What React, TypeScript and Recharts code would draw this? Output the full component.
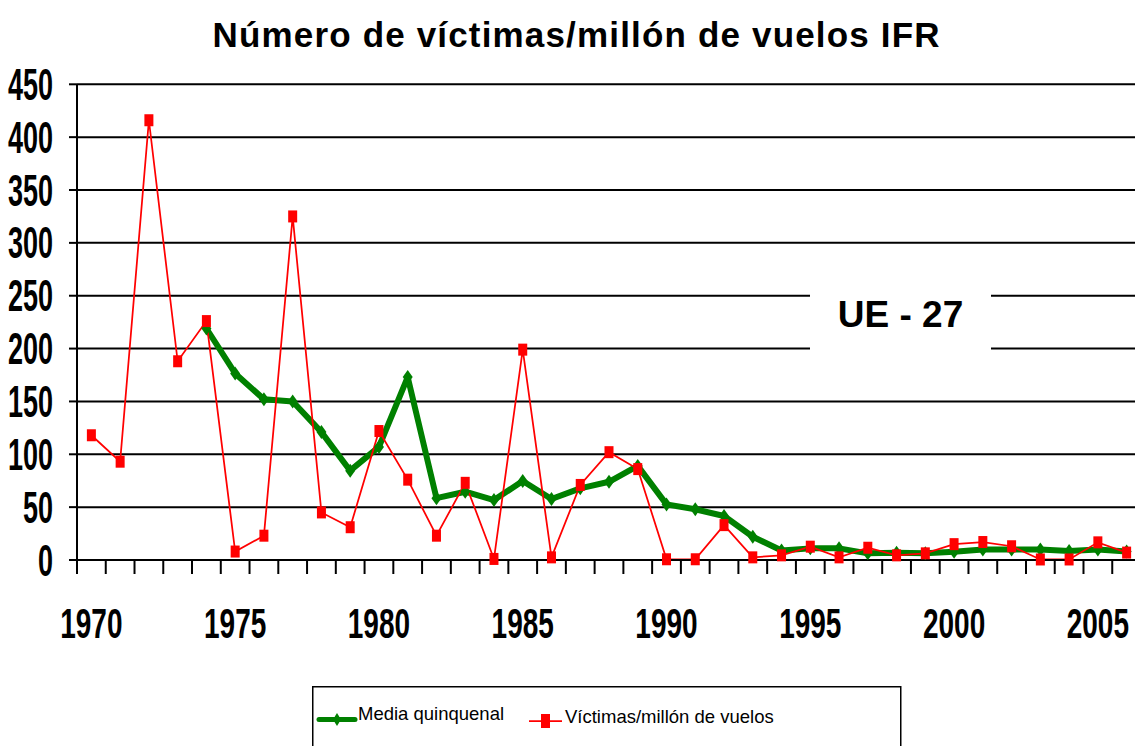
import React from 'react';
import { LineChart, Line, XAxis, YAxis, CartesianGrid } from 'recharts';

const years = [
  1970, 1971, 1972, 1973, 1974, 1975, 1976, 1977, 1978, 1979,
  1980, 1981, 1982, 1983, 1984, 1985, 1986, 1987, 1988, 1989,
  1990, 1991, 1992, 1993, 1994, 1995, 1996, 1997, 1998, 1999,
  2000, 2001, 2002, 2003, 2004, 2005, 2006,
];

const victimas = [
  118, 93, 416, 188, 226, 8, 23, 325, 45, 31,
  122, 76, 23, 73, 1, 199, 2.5, 71, 102, 86,
  0.7, 0.7, 33, 2.5, 4.4, 12.6, 2.5, 11.6, 4.4, 6.3,
  15, 17, 13, 0.5, 0.5, 16.7, 7,
];

const mediaQuinquenal = [
  null, null, null, null, 219, 176.5, 152, 150, 121, 84.5,
  107, 173, 58.5, 64.6, 56.7, 74.7, 57.7, 67.8, 74, 89,
  52.6, 48, 41.6, 22, 9, 11, 11, 6.3, 6.9, 6.3,
  7.9, 10, 10, 10, 8.6, 10, 8,
];

const yTicks = [0, 50, 100, 150, 200, 250, 300, 350, 400, 450];
const labeledYears = [1970, 1975, 1980, 1985, 1990, 1995, 2000, 2005];

const title = 'Número de víctimas/millón de vuelos IFR';
const annotation = 'UE - 27';
const legendMedia = 'Media quinquenal';
const legendVictimas = 'Víctimas/millón de vuelos';

const data = years.map((y, i) => ({
  year: y,
  victimas: victimas[i],
  media: mediaQuinquenal[i],
}));

const GREEN = '#008000';
const RED = '#FF0000';
const FONT = '"Liberation Sans", Arial, sans-serif';

const YTick = (props: any) => {
  const { x, y, payload } = props;
  return (
    <g transform={`translate(${x},${y + 15.5}) scale(1,1.62)`}>
      <text x={0} y={0} textAnchor="end" fontFamily={FONT} fontWeight="bold" fontSize={27} fill="#000">
        {payload.value}
      </text>
    </g>
  );
};

const XTick = (props: any) => {
  const { x, y, payload, index, visibleTicksCount } = props;
  const half = payload && typeof payload.offset === 'number' && payload.offset > 0 ? payload.offset : 14.38;
  const showLabel = labeledYears.includes(Number(payload.value));
  const isLast = index === (visibleTicksCount ?? years.length) - 1;
  return (
    <g>
      <line x1={x - half} x2={x - half} y1={y} y2={y + 14} stroke="#000" strokeWidth={2} />
      {isLast && <line x1={x + half} x2={x + half} y1={y} y2={y + 14} stroke="#000" strokeWidth={2} />}
      {showLabel && (
        <g transform={`translate(${x},${y + 78}) scale(1,1.5)`}>
          <text x={0} y={0} textAnchor="middle" fontFamily={FONT} fontWeight="bold" fontSize={28} fill="#000">
            {payload.value}
          </text>
        </g>
      )}
    </g>
  );
};

const RedDot = (props: any) => {
  const { cx, cy, index } = props;
  if (cx == null || cy == null) return <g key={`r${index}`} />;
  return <rect key={`r${index}`} x={cx - 4.5} y={cy - 6} width={9} height={12} fill={RED} />;
};

const GreenDot = (props: any) => {
  const { cx, cy, index } = props;
  if (cx == null || cy == null) return <g key={`g${index}`} />;
  return (
    <polygon
      key={`g${index}`}
      points={`${cx},${cy - 7} ${cx + 5},${cy} ${cx},${cy + 7} ${cx - 5},${cy}`}
      fill={GREEN}
    />
  );
};

export default function App() {
  return (
    <div
      style={{
        position: 'fixed',
        left: 0,
        top: 0,
        width: 1135,
        height: 746,
        overflow: 'hidden',
        background: '#fff',
      }}
    >
      <div style={{ position: 'absolute', left: 0, top: 0 }}>
        <LineChart
          width={1141}
          height={746}
          data={data}
          margin={{ top: 84.3, right: 0, bottom: 86, left: 0 }}
        >
          <CartesianGrid vertical={false} stroke="#000" strokeWidth={2} />
          <XAxis
            dataKey="year"
            type="category"
            scale="band"
            interval={0}
            height={100}
            tickLine={false}
            tickSize={0}
            tickMargin={0}
            axisLine={{ stroke: '#000', strokeWidth: 2 }}
            tick={<XTick />}
          />
          <YAxis
            type="number"
            domain={[0, 450]}
            ticks={yTicks}
            interval={0}
            width={77}
            tickSize={8}
            tickMargin={16}
            tickLine={{ stroke: '#000', strokeWidth: 2 }}
            axisLine={{ stroke: '#000', strokeWidth: 2 }}
            tick={<YTick />}
          />
          <Line
            dataKey="media"
            stroke={GREEN}
            strokeWidth={6}
            strokeLinejoin="round"
            dot={GreenDot}
            activeDot={false}
            isAnimationActive={false}
            connectNulls={false}
          />
          <Line
            dataKey="victimas"
            stroke={RED}
            strokeWidth={1.75}
            dot={RedDot}
            activeDot={false}
            isAnimationActive={false}
          />
        </LineChart>
      </div>
      <svg
        width={1135}
        height={746}
        style={{ position: 'absolute', left: 0, top: 0, pointerEvents: 'none' }}
      >
        <text
          x={212.5}
          y={46.7}
          textLength={727}
          lengthAdjust="spacing"
          fontFamily={FONT}
          fontWeight="bold"
          fontSize={35}
          fill="#000"
        >
          {title}
        </text>
        <rect x={810} y={289} width={181} height={64} fill="#fff" />
        <text x={900.5} y={327} textAnchor="middle" fontFamily={FONT} fontWeight="bold" fontSize={37} fill="#000">
          {annotation}
        </text>
        <rect x={312.75} y={686.75} width={588} height={100} fill="#fff" stroke="#000" strokeWidth={1.5} />
        <line x1={319} x2={355} y1={719.5} y2={719.5} stroke={GREEN} strokeWidth={5} strokeLinecap="round" />
        <polygon points="337,713 341,719.5 337,726 333,719.5" fill={GREEN} />
        <text x={358} y={720} fontFamily={FONT} fontSize={18.5} fill="#000">
          {legendMedia}
        </text>
        <line x1={529} x2={562} y1={721} y2={721} stroke={RED} strokeWidth={1.75} />
        <rect x={541} y={714} width={9} height={14} fill={RED} />
        <text x={565} y={723} fontFamily={FONT} fontSize={18.5} fill="#000">
          {legendVictimas}
        </text>
      </svg>
    </div>
  );
}
